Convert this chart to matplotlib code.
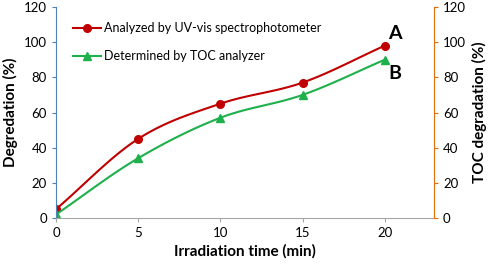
import numpy as np
import matplotlib.pyplot as plt

plt.rcParams['font.family'] = ['Lato', 'DejaVu Sans']

time_min = np.array([0, 5, 10, 15, 20])
uv_vis = np.array([5, 45, 65, 77, 98])
toc = np.array([2, 34, 57, 70, 90])
yticks = [0, 20, 40, 60, 80, 100, 120]
xticks = [0, 5, 10, 15, 20]


def suavizar(x, y, n=30):
    # curva suavizada tipo Excel (Catmull-Rom)
    px = np.concatenate([[2 * x[0] - x[1]], x, [2 * x[-1] - x[-2]]])
    py = np.concatenate([[2 * y[0] - y[1]], y, [2 * y[-1] - y[-2]]])
    xs, ys = [], []
    t = np.linspace(0, 1, n)
    for i in range(1, len(px) - 2):
        for p, out in ((px, xs), (py, ys)):
            p0, p1, p2, p3 = p[i - 1], p[i], p[i + 1], p[i + 2]
            out.extend(0.5 * ((2 * p1) + (-p0 + p2) * t
                              + (2 * p0 - 5 * p1 + 4 * p2 - p3) * t ** 2
                              + (-p0 + 3 * p1 - 3 * p2 + p3) * t ** 3))
    return np.array(xs), np.array(ys)


rojo = '#C00000'
verde = '#1DB04B'

fig = plt.figure(figsize=(4.98, 2.68), dpi=100)
ax = fig.add_axes([56 / 498, 1 - 218 / 268, (434 - 56) / 498, (218 - 7) / 268])

sx, sy = suavizar(time_min, uv_vis)
ax.plot(sx, sy, color=rojo, lw=1.5)
ax.plot(time_min, uv_vis, 'o', color=rojo, ms=5.5)
sx, sy = suavizar(time_min, toc)
ax.plot(sx, sy, color=verde, lw=1.5)
ax.plot(time_min, toc, '^', color=verde, ms=6)

# leyenda
ax.plot([], [], '-o', color=rojo, lw=1.5, ms=5.5, label='Analyzed by UV-vis spectrophotometer')
ax.plot([], [], '-^', color=verde, lw=1.5, ms=6, label='Determined by TOC analyzer')
handles, labels = ax.get_legend_handles_labels()
ax.legend(handles, labels, loc='upper left', bbox_to_anchor=(0.032, 0.952), frameon=False,
          fontsize=9, handlelength=2.2, labelspacing=1.3, borderaxespad=0, handletextpad=0.3)

ax.set_xlim(0, 23)
ax.set_ylim(0, 120)
ax.set_xticks(xticks)
ax.set_yticks(yticks)
ax.tick_params(labelsize=9.5, length=3, direction='out')
ax.tick_params(axis='y', colors='#4F81BD', labelcolor='black')
ax.tick_params(axis='x', colors='#A6A6A6', labelcolor='black')
ax.spines['top'].set_visible(False)
ax.spines['right'].set_visible(False)
ax.spines['left'].set_color('#4F81BD')
ax.spines['bottom'].set_color('#A6A6A6')
ax.set_xlabel('Irradiation time (min)', fontsize=11, fontweight='bold')
ax.set_ylabel('Degredation (%)', fontsize=11, fontweight='bold')

ax2 = ax.twinx()
ax2.set_ylim(0, 120)
ax2.set_yticks(yticks)
ax2.tick_params(labelsize=9.5, length=3, colors='#E46C0A', labelcolor='black')
for s in ['top', 'left', 'bottom']:
    ax2.spines[s].set_visible(False)
ax2.spines['right'].set_color('#E46C0A')
ax2.set_ylabel('TOC degradation (%)', fontsize=11, fontweight='bold')

ax.text(20.2, 100, 'A', fontsize=14, fontweight='bold', ha='left', va='bottom')
ax.text(20.2, 87, 'B', fontsize=14, fontweight='bold', ha='left', va='top')

fig.savefig('out.png', dpi=100)
